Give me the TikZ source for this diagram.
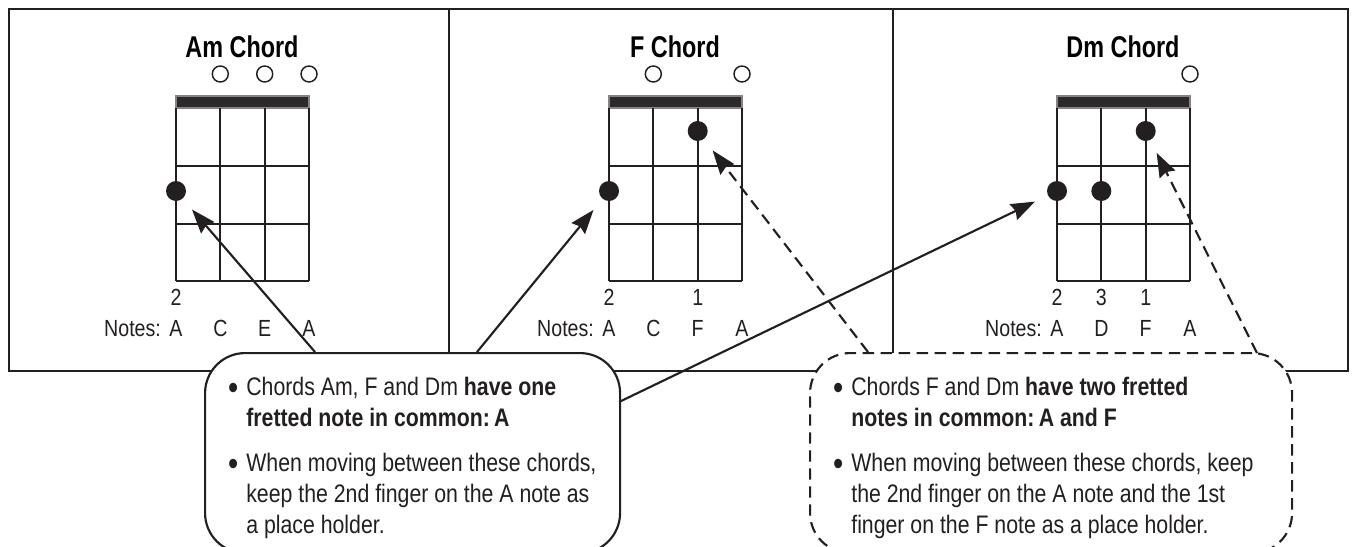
\documentclass[tikz,border=0pt]{standalone}
\usepackage{fontspec}
\setmainfont{Liberation Sans}[FakeStretch=0.84]
\newfontfamily\titlefont{Liberation Sans}[FakeStretch=0.78]
\usetikzlibrary{arrows.meta}
\definecolor{ink}{HTML}{231F20}

\begin{document}
\begin{tikzpicture}[x=0.75pt,y=-0.75pt,>={Stealth[length=18pt,width=13pt,inset=2pt]},
 line width=1.7pt,draw=ink,
 title/.style={font=\titlefont\bfseries\fontsize{22.5}{26}\selectfont,anchor=base,inner sep=0pt,text=black},
 tag/.style={font=\fontsize{17.5}{20}\selectfont,anchor=base,inner sep=0pt,text=ink},
 nut/.style={fill=ink!95,draw=ink!55,line width=0.8pt},
 fretdot/.style={circle,fill=ink,minimum size=15pt,inner sep=0pt},
 opendot/.style={circle,draw=ink,line width=1.1pt,fill=white,minimum size=12pt,inner sep=0pt},
 tipbox/.style={draw=ink,fill=white,line width=1.6pt,rounded corners=30pt,anchor=north west,minimum height=150pt,inner sep=0pt},
 tiptext/.style={anchor=north west,inner sep=0pt,align=left,text=ink,font=\fontsize{19}{23.25}\selectfont},
 guide/.style={->,shorten >=10pt,line width=1.6pt},
 holdguide/.style={guide,dash pattern=on 8.5pt off 5pt}]
\useasboundingbox (0,0) rectangle (1352,546);
% outer frame and panel dividers
\draw[line width=1.8pt] (9,9) rectangle (1348,371);
\draw (449,9) -- (449,371);
\draw (893,9) -- (893,371);
% chord grids
\foreach \x/\chord/\n/\notes in {176/Am/am/{A,C,E,A},609/F/f/{A,C,F,A},1057/Dm/dm/{A,D,F,A}}{
  \node[title] (\n-title) at (\x+66,57) {\chord\ Chord};
  \draw[nut] (\x,96) rectangle (\x+133,108);
  \foreach \s in {0,1,2,3} \draw (\x+44.33*\s,108) -- (\x+44.33*\s,281);
  \foreach \y in {166,224,281} \draw (\x,\y) -- (\x+133,\y);
  \node[tag,anchor=base east] (\n-notes) at (\x-14,336) {Notes:};
  \foreach \l [count=\i from 0] in \notes
    \node[tag] (\n-note\i) at (\x+44.33*\i,336) {\l};
}
% open strings
\node[opendot] (am-o1) at (220.3,74) {};
\node[opendot] (am-o2) at (264.7,74) {};
\node[opendot] (am-o3) at (309,74) {};
\node[opendot] (f-o1) at (653.3,74) {};
\node[opendot] (f-o3) at (742,74) {};
\node[opendot] (dm-o3) at (1190,74) {};
% fretted notes
\node[fretdot] (am-A) at (176,191) {};
\node[fretdot] (f-A) at (609,191) {};
\node[fretdot] (f-F) at (697.7,131) {};
\node[fretdot] (dm-A) at (1057,191) {};
\node[fretdot] (dm-D) at (1101.3,191) {};
\node[fretdot] (dm-F) at (1145.7,131) {};
% finger numbers
\node[tag] (am-fing0) at (176,305) {2};
\node[tag] (f-fing0) at (609,305) {2};
\node[tag] (f-fing2) at (697.7,305) {1};
\node[tag] (dm-fing0) at (1057,305) {2};
\node[tag] (dm-fing1) at (1101.3,305) {3};
\node[tag] (dm-fing2) at (1145.7,305) {1};
% callouts
\node[tipbox,minimum width=311.25pt] (onebox) at (204,352) {};
\node[tipbox,minimum width=361.5pt,dash pattern=on 8.5pt off 5pt] (twobox) at (809,352) {};
\node[tiptext] (onetext) at (227,373) {\begin{tabular}{@{}l@{\hspace{6pt}}l@{}}
 \raisebox{-2.6pt}{\fontsize{26}{23}\selectfont\textbullet} & Chords Am, F and Dm \textbf{have one}\\
  & \textbf{fretted note in common:\,A}\\[10.5pt]
 \raisebox{-2.6pt}{\fontsize{26}{23}\selectfont\textbullet} & When moving between these chords,\\
  & keep the 2nd finger on the A note as\\
  & a place holder.
 \end{tabular}};
\node[tiptext] (twotext) at (832,373) {\begin{tabular}{@{}l@{\hspace{6pt}}l@{}}
 \raisebox{-2.6pt}{\fontsize{26}{23}\selectfont\textbullet} & Chords F and Dm \textbf{have two fretted}\\
  & \textbf{notes in common:\,A and F}\\[10.5pt]
 \raisebox{-2.6pt}{\fontsize{26}{23}\selectfont\textbullet} & When moving between these chords, keep\\
  & the 2nd finger on the A note and the 1st\\
  & finger on the F note as a place holder.
 \end{tabular}};
% connectors
\coordinate (one-a) at (315,352);
\coordinate (one-b) at (477,352);
\coordinate (one-c) at (619,402);
\coordinate (two-a) at (868,352);
\coordinate (two-b) at (1257,353);
\draw[guide] (one-a) -- (am-A);
\draw[guide] (one-b) -- (f-A);
\draw[guide] (one-c) -- (dm-A);
\draw[holdguide] (two-a) -- (f-F);
\draw[holdguide] (two-b) -- (dm-F);
\end{tikzpicture}
\end{document}
